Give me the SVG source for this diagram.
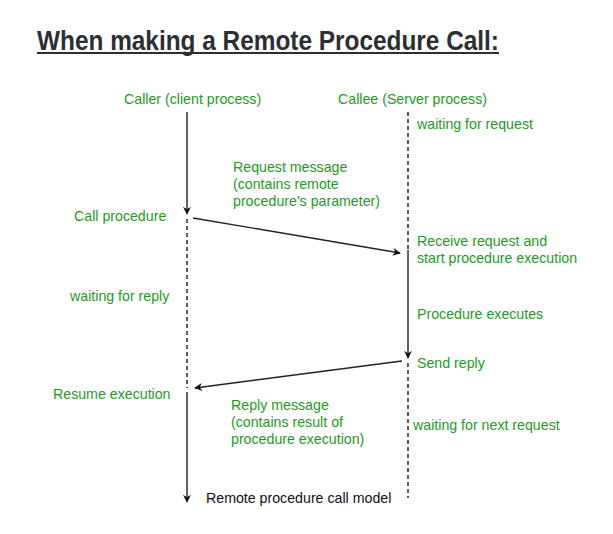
<svg xmlns="http://www.w3.org/2000/svg" width="613" height="534" viewBox="0 0 613 534">
<style>
.t{font-family:"Liberation Sans",Arial,sans-serif;font-size:14.2px;fill:#1f9a1f}
.k{font-family:"Liberation Sans",Arial,sans-serif;font-size:14.2px;fill:#111}
.title{font-family:"Liberation Sans",Arial,sans-serif;font-size:27px;font-weight:bold;fill:#2b2f33}
.solid{stroke:#222;stroke-width:1.4;fill:none}
.dash{stroke:#333;stroke-width:1.6;fill:none;stroke-dasharray:4 3}
</style>
<defs>
<marker id="ah" viewBox="0 0 10 10" refX="9" refY="5" markerWidth="8" markerHeight="8" markerUnits="userSpaceOnUse" orient="auto">
<path d="M0,0 L10,5 L0,10 L3,5 Z" fill="#111"/>
</marker>
</defs>
<rect width="613" height="534" fill="#fff"/>
<g id="title">
<text class="title" x="37" y="50" textLength="462" lengthAdjust="spacingAndGlyphs">When making a Remote Procedure Call:</text>
<line x1="37" y1="53" x2="499" y2="53" stroke="#2b2f33" stroke-width="2"/>
</g>
<g id="connectors">
<line class="solid" x1="187" y1="112" x2="187" y2="214" marker-end="url(#ah)"/>
<line class="dash" x1="187" y1="219" x2="187" y2="388"/>
<line class="solid" x1="187" y1="392" x2="187" y2="502" marker-end="url(#ah)"/>
<line class="dash" x1="408" y1="112" x2="408" y2="250"/>
<line class="solid" x1="408" y1="250" x2="408" y2="358" marker-end="url(#ah)"/>
<line class="dash" x1="408" y1="363" x2="408" y2="498"/>
<line class="solid" x1="193" y1="218" x2="400" y2="253" marker-end="url(#ah)"/>
<line class="solid" x1="402" y1="361" x2="195" y2="388" marker-end="url(#ah)"/>
</g>
<g id="caller"><text class="t" x="124" y="104">Caller (client process)</text></g>
<g id="callee"><text class="t" x="338" y="104">Callee (Server process)</text></g>
<g id="waiting-request"><text class="t" x="417" y="129">waiting for request</text></g>
<g id="request-message"><text class="t" x="233" y="172">Request message</text><text class="t" x="233" y="189">(contains remote</text><text class="t" x="233" y="206">procedure's parameter)</text></g>
<g id="call-procedure"><text class="t" x="74" y="221">Call procedure</text></g>
<g id="receive-request"><text class="t" x="417" y="246">Receive request and</text><text class="t" x="417" y="263">start procedure execution</text></g>
<g id="waiting-reply"><text class="t" x="70" y="301">waiting for reply</text></g>
<g id="procedure-executes"><text class="t" x="417" y="319">Procedure executes</text></g>
<g id="send-reply"><text class="t" x="417" y="368">Send reply</text></g>
<g id="resume-execution"><text class="t" x="53" y="399">Resume execution</text></g>
<g id="reply-message"><text class="t" x="231" y="410">Reply message</text><text class="t" x="231" y="427">(contains result of</text><text class="t" x="231" y="444">procedure execution)</text></g>
<g id="waiting-next"><text class="t" x="413" y="430">waiting for next request</text></g>
<g id="caption"><text class="k" x="206" y="503">Remote procedure call model</text></g>
</svg>
